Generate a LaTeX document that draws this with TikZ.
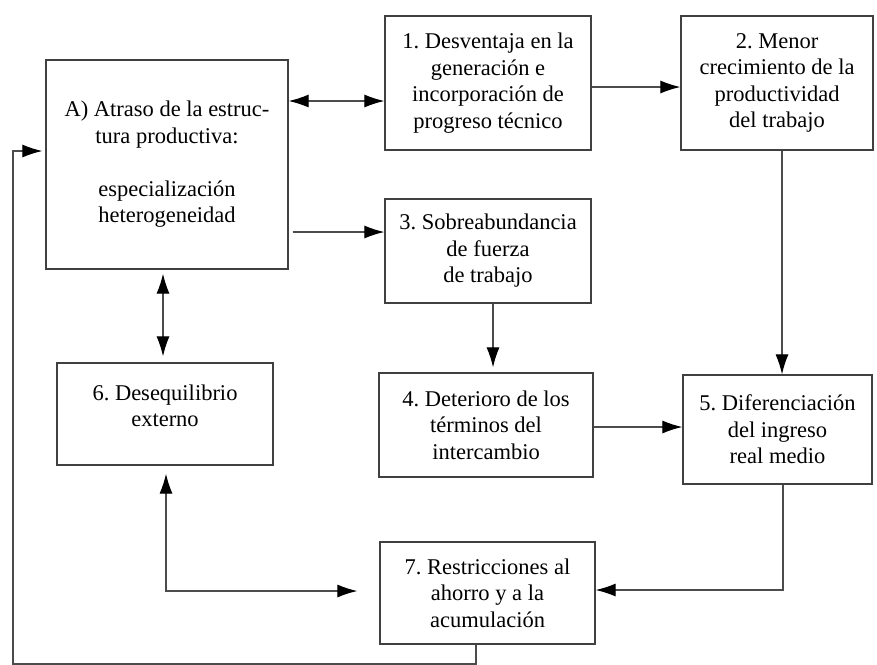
\documentclass[tikz,border=0pt]{standalone}
\usepackage{fontspec}
\setmainfont{Liberation Serif}
\usetikzlibrary{arrows.meta}
\frenchspacing
\tikzset{
  box/.style={draw=black!75, line width=1.3pt, align=center, inner sep=0pt,
    font=\fontsize{22.5}{26.5}\selectfont\frenchspacing, text=black},
  hd/.tip={Latex[length=20pt,width=13pt,fill=black,color=black]},
  arr/.style={draw=black!70, line width=1.2pt, -hd},
  darr/.style={draw=black!70, line width=1.2pt, hd-hd}
}
\begin{document}
\begin{tikzpicture}[x=1pt,y=-1pt]
\useasboundingbox[fill=white] (0,0) rectangle (877,664);
\node[box, minimum width=242pt, minimum height=209pt] (A) at (167,164.5)
  {A) Atraso de la estruc-\\tura productiva:\\ \mbox{}\\especialización\\heterogeneidad};
\node[box, minimum width=206pt, minimum height=134pt] (B1) at (488,83)
  {1. Desventaja en la\\generación e\\incorporación de\\progreso técnico};
\node[box, minimum width=192pt, minimum height=134pt] (B2) at (777,83)
  {2. Menor\\crecimiento de la\\productividad\\del trabajo};
\node[box, minimum width=206pt, minimum height=104pt] (B3) at (488,251)
  {3. Sobreabundancia\\de fuerza\\de trabajo};
\node[box, minimum width=214pt, minimum height=104pt] (B4) at (486,425)
  {4. Deterioro de los\\términos del\\intercambio};
\node[box, minimum width=189pt, minimum height=109pt] (B5) at (777.5,429.5)
  {5. Diferenciación\\del ingreso\\real medio};
\node[box, minimum width=216pt, minimum height=102pt] (B6) at (165,414)
  {6. Desequilibrio\\externo\\[-10pt]};
\node[box, minimum width=215pt, minimum height=102pt] (B7) at (487.5,593)
  {7. Restricciones al\\ahorro y a la\\acumulación};
% connectors
\draw[darr] ([yshift=63.5pt]A.east) -- ([yshift=-18pt]B1.west);
\draw[arr] ([yshift=-4pt]B1.east) -- ([yshift=-4pt]B2.west);
\draw[arr, shorten <=4pt] ([yshift=-67.5pt]A.east) -- ([yshift=19pt]B3.west);
\draw[darr, shorten <=4pt, shorten >=6pt] ([xshift=-4pt]A.south) -- ([xshift=-2pt]B6.north);
\draw[arr, shorten >=5pt] ([xshift=5pt]B3.south) -- ([xshift=7pt]B4.north);
\draw[arr] ([xshift=5pt]B2.south) -- ([xshift=4.5pt]B5.north);
\draw[arr] ([yshift=-2pt]B4.east) -- ([yshift=2.5pt]B5.west);
\draw[arr] ([xshift=5.5pt]B5.south) |- ([yshift=3pt]B7.east);
\draw[darr, shorten <=8pt, shorten >=22pt] ([xshift=1pt]B6.south) |- ([yshift=2pt]B7.west);
\coordinate (c1) at (476,664);
\coordinate (c2) at (13,664);
\draw[arr, shorten >=3pt] ([xshift=-11.5pt]B7.south) -- (c1) -- (c2) |- ([yshift=13.5pt]A.west);
\end{tikzpicture}
\end{document}
